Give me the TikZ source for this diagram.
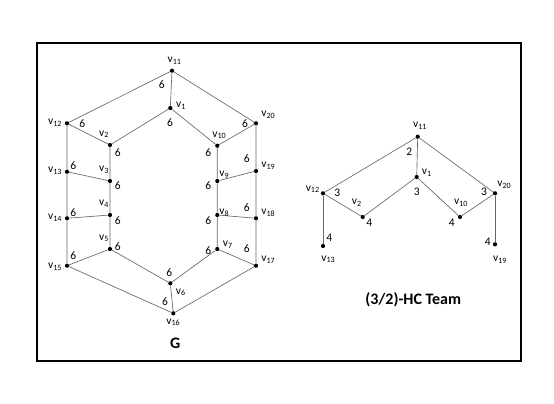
\documentclass[tikz,border=0pt]{standalone}
\usepackage{fontspec}
\setmainfont{Carlito}
\tikzset{
    vtx/.style={circle,fill=black,inner sep=0pt,minimum size=4.2pt},
    edge/.style={draw=black!60,line width=0.65pt},
    vname/.style={font=\fontsize{11.5}{13}\selectfont,inner sep=0pt},
    wt/.style={font=\fontsize{11.5}{13}\selectfont,inner sep=0pt},
    title/.style={font=\fontsize{16}{18}\selectfont\bfseries,inner sep=0pt},
    frame/.style={draw=black,line width=1.6pt}
}

\begin{document}
\begin{tikzpicture}[x=1pt,y=-1pt]
    \useasboundingbox (0,0) rectangle (554,404);
    \draw[frame] (37,43) rectangle (521,361);

    % graph G: outer ring
    \node[vtx] (v11) at (172,70.7) {};
    \node[vtx] (v12) at (67,123.3) {};
    \node[vtx] (v13) at (67,171.7) {};
    \node[vtx] (v14) at (67,218.3) {};
    \node[vtx] (v15) at (67,265.7) {};
    \node[vtx] (v16) at (173.3,313.3) {};
    \node[vtx] (v17) at (256,265.7) {};
    \node[vtx] (v18) at (256,218.3) {};
    \node[vtx] (v19) at (256,171) {};
    \node[vtx] (v20) at (256,123.3) {};
    % graph G: inner ring
    \node[vtx] (v1)  at (170.3,108) {};
    \node[vtx] (v2)  at (110,145) {};
    \node[vtx] (v3)  at (110,181) {};
    \node[vtx] (v4)  at (110,215) {};
    \node[vtx] (v5)  at (110,249) {};
    \node[vtx] (v6)  at (170.3,283.3) {};
    \node[vtx] (v7)  at (217.3,249) {};
    \node[vtx] (v8)  at (217.3,215) {};
    \node[vtx] (v9)  at (217.3,181) {};
    \node[vtx] (v10) at (217.3,145.7) {};

    \draw[edge] (v11) -- (v12) -- (v13) -- (v14) -- (v15) -- (v16) -- (v17) -- (v18) -- (v19) -- (v20) -- (v11);
    \draw[edge] (v1) -- (v2) -- (v3) -- (v4) -- (v5) -- (v6) -- (v7) -- (v8) -- (v9) -- (v10) -- (v1);
    \draw[edge] (v11) -- (v1);
    \draw[edge] (v12) -- (v2);
    \draw[edge] (v13) -- (v3);
    \draw[edge] (v14) -- (v4);
    \draw[edge] (v15) -- (v5);
    \draw[edge] (v16) -- (v6);
    \draw[edge] (v17) -- (v7);
    \draw[edge] (v18) -- (v8);
    \draw[edge] (v19) -- (v9);
    \draw[edge] (v20) -- (v10);

    % vertex names of G
    \node[vname] (n11) at (174.5,60.5) {v\textsubscript{11}};
    \node[vname] (n1)  at (181,106) {v\textsubscript{1}};
    \node[vname] (n12) at (55,122.7) {v\textsubscript{12}};
    \node[vname] (n20) at (268.3,115) {v\textsubscript{20}};
    \node[vname] (n2)  at (104,134.3) {v\textsubscript{2}};
    \node[vname] (n10) at (219.3,135.3) {v\textsubscript{10}};
    \node[vname] (n13) at (55,171) {v\textsubscript{13}};
    \node[vname] (n3)  at (104,170) {v\textsubscript{3}};
    \node[vname] (n9)  at (224.3,175) {v\textsubscript{9}};
    \node[vname] (n19) at (268.3,166) {v\textsubscript{19}};
    \node[vname] (n14) at (55,218) {v\textsubscript{14}};
    \node[vname] (n4)  at (104,204) {v\textsubscript{4}};
    \node[vname] (n8)  at (224.3,212.7) {v\textsubscript{8}};
    \node[vname] (n18) at (268.3,213) {v\textsubscript{18}};
    \node[vname] (n15) at (55,266.7) {v\textsubscript{15}};
    \node[vname] (n5)  at (104,238.3) {v\textsubscript{5}};
    \node[vname] (n7)  at (227.7,245) {v\textsubscript{7}};
    \node[vname] (n17) at (268.3,260) {v\textsubscript{17}};
    \node[vname] (n6)  at (180.7,292.3) {v\textsubscript{6}};
    \node[vname] (n16) at (173.3,322.3) {v\textsubscript{16}};

    % weights of G
    \node[wt] (w11) at (161.7,85) {6};
    \node[wt] (w1)  at (170,122.7) {6};
    \node[wt] (w12) at (82.3,124) {6};
    \node[wt] (w20) at (245,124) {6};
    \node[wt] (w2)  at (117.7,152.7) {6};
    \node[wt] (w10) at (208.3,152.7) {6};
    \node[wt] (w13) at (73.3,166) {6};
    \node[wt] (w3)  at (117.7,186) {6};
    \node[wt] (w19) at (246.7,158.3) {6};
    \node[wt] (w9)  at (208.3,185.7) {6};
    \node[wt] (w14) at (73.3,212.7) {6};
    \node[wt] (w4)  at (117.7,220.7) {6};
    \node[wt] (w18) at (246.7,207.7) {6};
    \node[wt] (w8)  at (208.3,221) {6};
    \node[wt] (w15) at (73.3,256) {6};
    \node[wt] (w5)  at (117.7,246.7) {6};
    \node[wt] (w17) at (246.7,249) {6};
    \node[wt] (w7)  at (208.3,251) {6};
    \node[wt] (w6)  at (169.3,272.3) {6};
    \node[wt] (w16) at (165,301.7) {6};

    \node[title] (gG) at (175.3,343.3) {G};

    % (3/2)-HC team
    \node[vtx] (t11) at (417.7,136.7) {};
    \node[vtx] (t1)  at (416.7,177) {};
    \node[vtx] (t12) at (323,193.3) {};
    \node[vtx] (t2)  at (362.7,217) {};
    \node[vtx] (t10) at (460,217) {};
    \node[vtx] (t20) at (495,193.3) {};
    \node[vtx] (t13) at (323,246) {};
    \node[vtx] (t19) at (495,244.3) {};

    \draw[edge] (t12) -- (t11) -- (t20);
    \draw[edge] (t11) -- (t1);
    \draw[edge] (t12) -- (t2) -- (t1) -- (t10) -- (t20);
    \draw[edge] (t12) -- (t13);
    \draw[edge] (t20) -- (t19);

    \node[vname] (tn11) at (420,126) {v\textsubscript{11}};
    \node[vname] (tn1)  at (426.7,172.7) {v\textsubscript{1}};
    \node[vname] (tn12) at (312.7,189.3) {v\textsubscript{12}};
    \node[vname] (tn20) at (504.3,185) {v\textsubscript{20}};
    \node[vname] (tn2)  at (356.7,202.7) {v\textsubscript{2}};
    \node[vname] (tn10) at (461,202.7) {v\textsubscript{10}};
    \node[vname] (tn13) at (328.3,259.3) {v\textsubscript{13}};
    \node[vname] (tn19) at (500,260) {v\textsubscript{19}};

    \node[wt] (tw11) at (409.3,151.7) {2};
    \node[wt] (tw1)  at (416.7,191.7) {3};
    \node[wt] (tw12) at (337.3,192.7) {3};
    \node[wt] (tw2)  at (369.3,223.3) {4};
    \node[wt] (tw10) at (451.7,223.3) {4};
    \node[wt] (tw20) at (484,191.7) {3};
    \node[wt] (tw13) at (329.3,238.3) {4};
    \node[wt] (tw19) at (487.7,241.7) {4};

    \node[title] (tteam) at (413.3,299.3) {(3/2)-HC Team};
\end{tikzpicture}
\end{document}
